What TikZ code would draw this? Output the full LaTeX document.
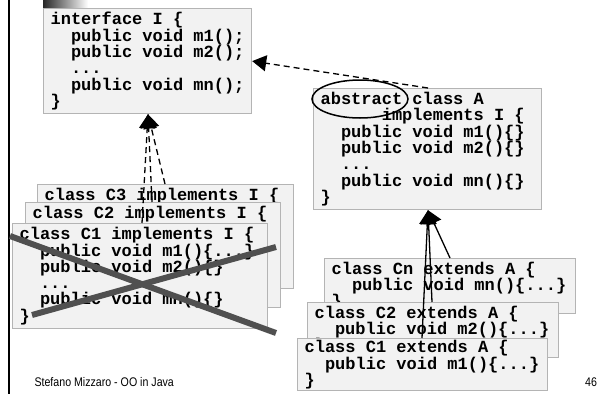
\documentclass[tikz,border=0pt]{standalone}
\usepackage{fontspec}
\usetikzlibrary{arrows.meta,calc}
\newfontfamily\codefont{Liberation Mono}
\newfontfamily\footfont[FakeStretch=0.85]{Liberation Sans}
\newcommand\codesize{\codefont\bfseries\fontsize{17}{16.3}\selectfont
  \fontdimen2\font=0.6em\fontdimen3\font=0pt\fontdimen4\font=0pt\relax}
\definecolor{boxfill}{HTML}{F2F2F2}
\definecolor{boxline}{HTML}{B4B4B4}
\definecolor{crossline}{HTML}{505050}
\tikzset{
  codebox/.style={draw=boxline, fill=boxfill, line width=1.2pt, anchor=north west,
    inner xsep=7pt, inner ysep=0pt, align=left, text width=#1, font=\codesize,
    execute at begin node={\spaceskip=0pt\xspaceskip=0pt\relax}},
  realizes/.style={-{Triangle[length=14pt,width=16pt]}, line width=1.3pt, dash pattern=on 6pt off 4pt},
  extends/.style={-{Triangle[length=14pt,width=16pt]}, line width=1.3pt}
}

\begin{document}
\begin{tikzpicture}[x=1pt,y=-1pt]
  \useasboundingbox (0,0) rectangle (604,394);

  % Slide border
  \draw[line width=2pt] (9,0) -- (9,394);
  \shade[left color=black!85, right color=white] (43,0) rectangle (88,8);

  % Interface
  \node[codebox=194, minimum height=105] (iface) at (43,8)
    {interface I \{\\~~public void m1();\\~~public void m2();\\~~...\\~~public void mn();\\\}};

  % Abstract class
  \node[codebox=214, minimum height=121] (absA) at (313,88)
    {abstract class A\\~~~~~~implements I \{\\~~public void m1()\{\}\\~~public void m2()\{\}\\~~...\\~~public void mn()\{\}\\\}};
  \draw[line width=1.5pt] ($(absA.north west)+(47,11)$) ellipse [x radius=48pt, y radius=19pt];

  % Classes implementing I
  \node[codebox=242, text height=16pt, text depth=88pt] (cthree) at (37,184) {class C3 implements I \{};
  \node[codebox=241, text height=16pt, text depth=89pt] (ctwo) at (25,202) {class C2 implements I \{};
  \node[codebox=241, minimum height=105] (cone) at (12,223)
    {class C1 implements I \{\\~~public void m1()\{...\}\\~~public void m2()\{\}\\~~...\\~~public void mn()\{\}\\\}};

  % Classes extending A
  \node[codebox=237, minimum height=55] (cnA) at (324,258)
    {class Cn extends A \{\\~~public void mn()\{...\}\\\}};
  \node[codebox=237, minimum height=55] (ctwoA) at (307,302)
    {class C2 extends A \{\\~~public void m2()\{...\}\\\}};
  \node[codebox=236, minimum height=52] (coneA) at (297,338)
    {class C1 extends A \{\\~~public void m1()\{...\}\\\}};

  % Realization arrows
  \draw[realizes] ([xshift=115pt]absA.north west) -- (iface.east);
  \draw[realizes] ([xshift=128pt]cthree.north west) -- ([xshift=105pt]iface.south west);
  \draw[realizes] ([xshift=127pt]ctwo.north west) -- ([xshift=105pt]iface.south west);
  \draw[realizes] ([xshift=130pt]cone.north west) -- ([xshift=105pt]iface.south west);

  % Extension arrows
  \draw[extends] ([xshift=126pt]cnA.north west) -- ([xshift=115pt]absA.south west);
  \draw[extends] ([xshift=125pt]ctwoA.north west) -- ([xshift=115pt]absA.south west);
  \draw[extends] ([xshift=125pt]coneA.north west) -- ([xshift=115pt]absA.south west);

  % Cross over C1
  \draw[crossline, line width=6pt] (10,236) -- (276,333);
  \draw[crossline, line width=6pt] (32,315) -- (276,247);

  % Footer
  \node[font=\footfont\fontsize{12.5}{14}\selectfont, anchor=west] (footer) at (31,382) {Stefano Mizzaro - OO in Java};
  \node[font=\footfont\fontsize{12.5}{14}\selectfont] (pagenum) at (591,382) {46};
\end{tikzpicture}
\end{document}
